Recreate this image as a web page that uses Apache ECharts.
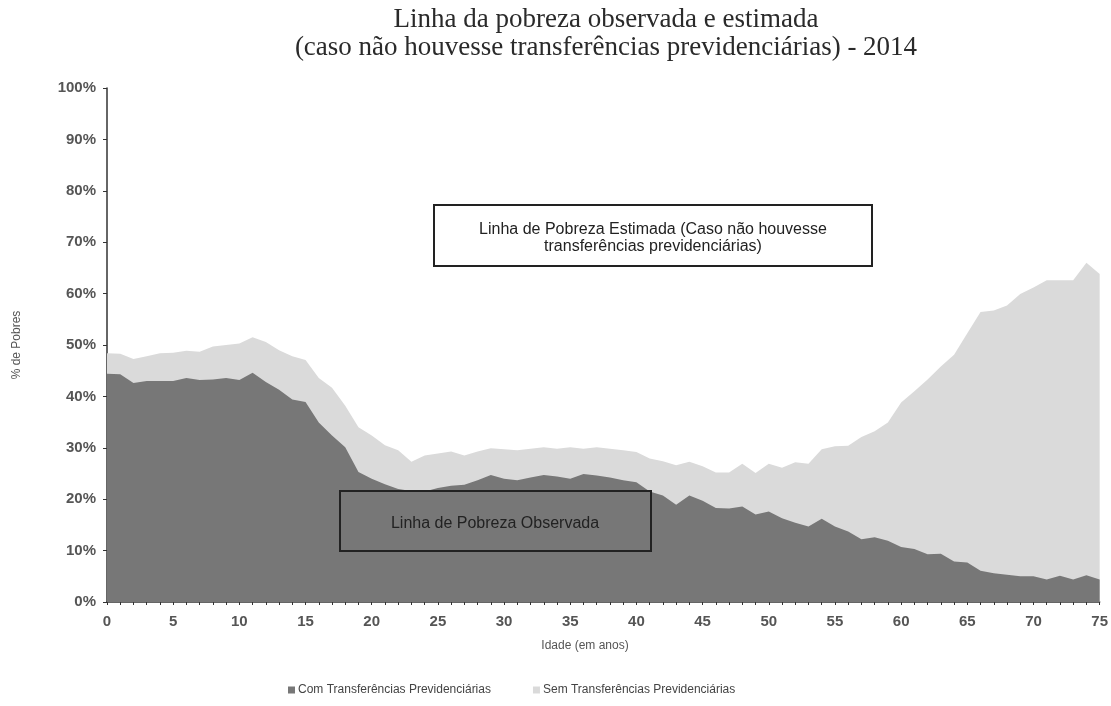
<!DOCTYPE html>
<html>
<head>
<meta charset="utf-8">
<script src="https://cdn.jsdelivr.net/npm/echarts@6/dist/echarts.min.js"></script>
<style>
html,body{margin:0;padding:0;background:#fff;}
#chart{width:1111px;height:706px;}
</style>
</head>
<body>
<div id="chart"></div>
<script>
// Ages 0..75 (categories)
var ages = ["0","1","2","3","4","5","6","7","8","9","10","11","12","13","14","15","16","17","18","19","20","21","22","23","24","25","26","27","28","29","30","31","32","33","34","35","36","37","38","39","40","41","42","43","44","45","46","47","48","49","50","51","52","53","54","55","56","57","58","59","60","61","62","63","64","65","66","67","68","69","70","71","72","73","74","75"];

// % poor WITH social security transfers (observed)
var comTransf = [44.4,44.3,42.6,43.0,43.0,43.0,43.6,43.2,43.3,43.6,
                 43.2,44.6,42.8,41.3,39.4,38.9,34.9,32.4,30.1,25.3,
                 24.0,22.9,22.0,21.6,21.5,22.2,22.6,22.8,23.7,24.7,
                 24.0,23.7,24.2,24.7,24.4,24.0,24.9,24.6,24.2,23.7,
                 23.3,21.5,20.7,18.9,20.7,19.7,18.3,18.2,18.6,17.0,
                 17.6,16.3,15.4,14.7,16.2,14.7,13.7,12.2,12.6,11.9,
                 10.7,10.3,9.3,9.4,7.9,7.7,6.1,5.6,5.3,5.0,
                 5.0,4.4,5.1,4.4,5.2,4.4];

// % poor WITHOUT social security transfers (estimated)
var semTransf = [48.4,48.3,47.3,47.8,48.4,48.5,48.9,48.7,49.7,50.0,
                 50.3,51.5,50.6,49.0,47.8,47.1,43.6,41.7,38.2,34.0,
                 32.4,30.5,29.5,27.3,28.5,28.9,29.3,28.5,29.3,29.9,
                 29.7,29.5,29.8,30.1,29.8,30.1,29.8,30.1,29.8,29.5,
                 29.2,27.9,27.4,26.6,27.3,26.4,25.2,25.2,26.9,25.1,
                 26.9,26.1,27.2,26.9,29.7,30.3,30.4,32.1,33.2,34.9,
                 38.8,41.0,43.3,45.8,48.1,52.3,56.4,56.7,57.7,59.9,
                 61.2,62.6,62.6,62.6,66.0,63.8];

var seriesNames = ["Com Transferências Previdenciárias", "Sem Transferências Previdenciárias"];
var titleLines = ["Linha da pobreza observada e estimada", "(caso não houvesse transferências previdenciárias) - 2014"];
var boxEstimada = ["Linha de Pobreza Estimada (Caso não houvesse", "transferências previdenciárias)"];
var boxObservada = "Linha de Pobreza Observada";
var xName = "Idade (em anos)";
var yName = "% de Pobres";

var chart = echarts.init(document.getElementById('chart'), null, {renderer: 'canvas'});
var sans = 'Liberation Sans, Arial, sans-serif';
var serif = 'Liberation Serif, Times New Roman, serif';

var option = {
  animation: false,
  backgroundColor: '#ffffff',
  grid: {left: 107, right: 10, top: 88, bottom: 104, containLabel: false},
  legend: {
    data: seriesNames,
    left: 283, bottom: 5,
    itemWidth: 7, itemHeight: 7, itemGap: 42,
    icon: 'rect',
    textStyle: {fontFamily: sans, fontSize: 12, color: '#444', padding: [0, 0, 0, -2]}
  },
  xAxis: {
    type: 'category',
    data: ages,
    boundaryGap: false,
    axisLine: {lineStyle: {color: '#333', width: 1.5}},
    axisTick: {show: true, interval: 0, length: 3, lineStyle: {color: '#333'}},
    axisLabel: {interval: 4, color: '#555', fontFamily: sans, fontSize: 15, fontWeight: 'bold', margin: 12},
    splitLine: {show: false}
  },
  yAxis: {
    type: 'value',
    min: 0, max: 100, interval: 10,
    name: yName, nameLocation: 'middle', nameGap: 84, nameRotate: 90,
    nameTextStyle: {fontFamily: sans, fontSize: 12, color: '#555'},
    axisLine: {show: true, lineStyle: {color: '#333', width: 1.5}},
    axisTick: {show: true, length: 4, lineStyle: {color: '#333'}},
    axisLabel: {formatter: '{value}%', color: '#555', fontFamily: sans, fontSize: 15, fontWeight: 'bold', margin: 11},
    splitLine: {show: false}
  },
  series: [
    {
      name: seriesNames[1], type: 'line', data: semTransf,
      symbol: 'none', lineStyle: {width: 0, color: '#dadada'},
      itemStyle: {color: '#dadada'},
      areaStyle: {color: '#dadada', opacity: 1}, z: 1
    },
    {
      name: seriesNames[0], type: 'line', data: comTransf,
      symbol: 'none', lineStyle: {width: 0, color: '#777777'},
      itemStyle: {color: '#777777'},
      areaStyle: {color: '#777777', opacity: 1}, z: 2
    }
  ],
  graphic: [
    {type: 'text', x: 606, y: 6, style: {
      text: titleLines.join('\n'), font: '27px ' + serif, fill: '#2a2a2a',
      textAlign: 'center', lineHeight: 28}},
    {type: 'rect', shape: {x: 434, y: 205, width: 438, height: 61}, z: 10,
      style: {fill: '#ffffff', stroke: '#222', lineWidth: 2}},
    {type: 'text', x: 653, y: 221, z: 11, style: {
      text: boxEstimada.join('\n'), font: '16px ' + sans, fill: '#222',
      textAlign: 'center', lineHeight: 17}},
    {type: 'rect', shape: {x: 340, y: 491, width: 311, height: 60}, z: 10,
      style: {fill: 'rgba(0,0,0,0)', stroke: '#222', lineWidth: 2}},
    {type: 'text', x: 495, y: 516, z: 11, style: {
      text: boxObservada, font: '16px ' + sans, fill: '#222', textAlign: 'center'}},
    {type: 'text', x: 585, y: 640, z: 11, style: {
      text: xName, font: '12px ' + sans, fill: '#555', textAlign: 'center'}}
  ]
};
chart.setOption(option);
</script>
</body>
</html>
